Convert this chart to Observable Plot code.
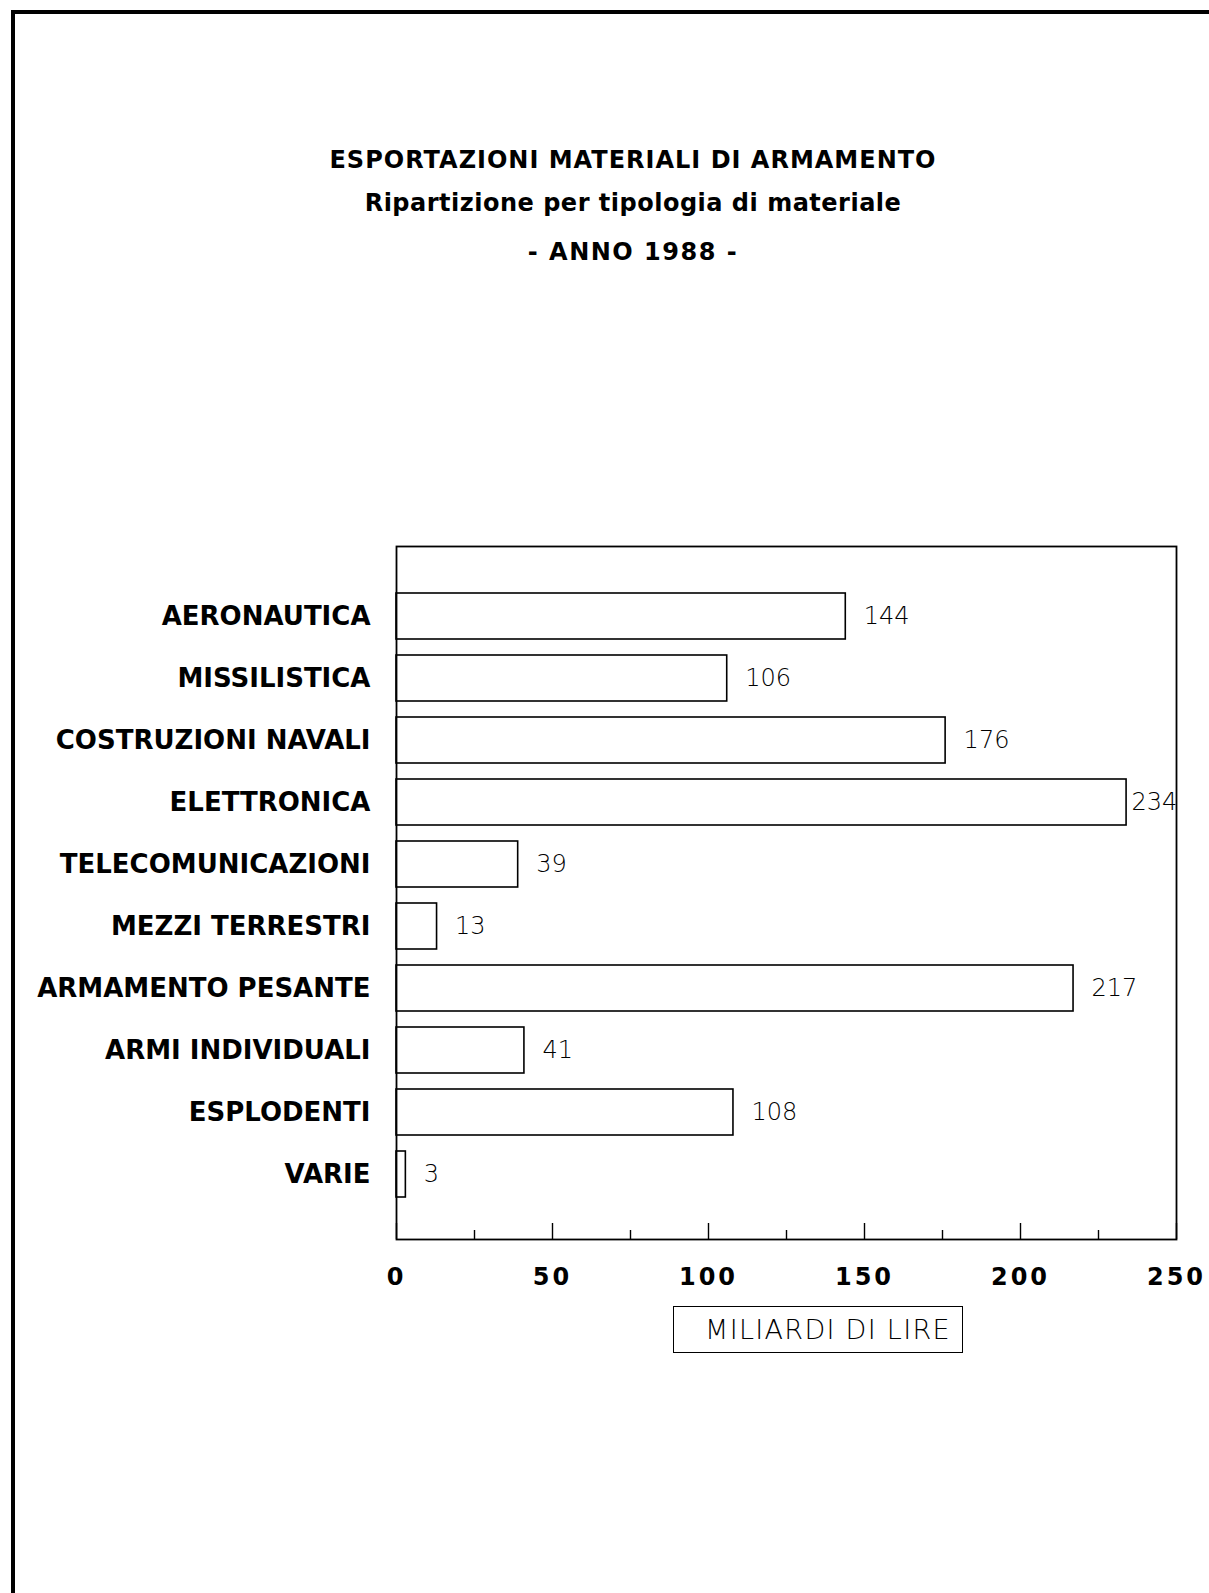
<!DOCTYPE html>
<html>
<head>
<meta charset="utf-8">
<script src="https://cdn.jsdelivr.net/npm/d3@7"></script>
<script src="https://cdn.jsdelivr.net/npm/@observablehq/plot@0.6"></script>
<style>
  html, body { margin: 0; padding: 0; background: #fff; }
  #page { position: relative; width: 1209px; height: 1593px; overflow: hidden; background: #fff; }
  #border { position: absolute; left: 11px; top: 10px; width: 1300px; height: 1700px; z-index: 2;
            border-top: 4px solid #000; border-left: 4px solid #000; pointer-events: none; }
  .title { position: absolute; left: 133px; width: 1000px; text-align: center; white-space: nowrap;
           font-family: "DejaVu Sans", sans-serif; font-weight: bold; font-size: 24px; line-height: 24px; color: #000; }
  #chart { position: absolute; left: 0; top: 500px; }
  #xlabel { position: absolute; left: 673px; top: 1306px; width: 290px; height: 47px; box-sizing: border-box;
            border: 1.6px solid #000; display: flex; align-items: center; justify-content: center;
            padding-left: 20px; font-family: "DejaVu Sans", sans-serif; font-weight: 200; font-size: 27px;
            letter-spacing: 1.3px; color: #000; white-space: nowrap; }
  g[aria-label="y-axis tick label"] text { font-family: "DejaVu Sans", sans-serif; font-weight: bold; font-size: 26px; }
  g[aria-label="x-axis tick label"] text { font-family: "DejaVu Sans", sans-serif; font-weight: bold; font-size: 24px; letter-spacing: 3px; }
  g.vals text { font-family: "DejaVu Sans", sans-serif; font-weight: 200; font-size: 24px; }
</style>
</head>
<body>
<div id="page">
  <div id="border"></div>
  <div class="title" style="top:148px; letter-spacing:1px;">ESPORTAZIONI MATERIALI DI ARMAMENTO</div>
  <div class="title" style="top:191px; letter-spacing:0.5px;">Ripartizione per tipologia di materiale</div>
  <div class="title" style="top:240px; letter-spacing:1.5px;">- ANNO 1988 -</div>
  <div id="chart"></div>
  <div id="xlabel">MILIARDI DI LIRE</div>
</div>
<script>
const categories = ["AERONAUTICA","MISSILISTICA","COSTRUZIONI NAVALI","ELETTRONICA","TELECOMUNICAZIONI","MEZZI TERRESTRI","ARMAMENTO PESANTE","ARMI INDIVIDUALI","ESPLODENTI","VARIE"];
const values = [144, 106, 176, 234, 39, 13, 217, 41, 108, 3];
const majorTicks = [0, 50, 100, 150, 200, 250];
const minorTicks = [25, 75, 125, 175, 225];

const data = categories.map((c, i) => ({cat: c, v: values[i]}));

const width = 1209, height = 880;
const marginLeft = 396, marginRight = 33, marginTop = 46, marginBottom = 141;
const innerH = height - marginTop - marginBottom;

const chart = Plot.plot({
  width, height, marginLeft, marginRight, marginTop, marginBottom,
  style: {background: "transparent", color: "#000", overflow: "visible"},
  x: {domain: [0, 250]},
  y: {domain: categories, paddingInner: 0.26, paddingOuter: 0.13, insetTop: 37, insetBottom: 33},
  marks: [
    Plot.barX(data, {x: "v", y: "cat", fill: "#fff", stroke: "#000", strokeWidth: 1.6}),
    Plot.frame({stroke: "#000", strokeWidth: 1.8}),
    Plot.tickX(majorTicks, {x: d => d, stroke: "#000", strokeWidth: 1.4, insetTop: innerH - 16}),
    Plot.tickX(minorTicks, {x: d => d, stroke: "#000", strokeWidth: 1.4, insetTop: innerH - 9}),
    Plot.axisX({ticks: majorTicks, tickSize: 0, tickPadding: 28, label: null, tickFormat: d => String(d)}),
    Plot.axisY({tickSize: 0, tickPadding: 26, label: null}),
    Plot.text(data, {filter: d => d.v < 230, x: "v", y: "cat", text: d => String(d.v), textAnchor: "start", dx: 18, className: "vals"}),
    Plot.text(data, {filter: d => d.v >= 230, x: "v", y: "cat", text: d => String(d.v), textAnchor: "start", dx: 5, className: "vals"})
  ]
});
document.getElementById("chart").appendChild(chart);
</script>
</body>
</html>
